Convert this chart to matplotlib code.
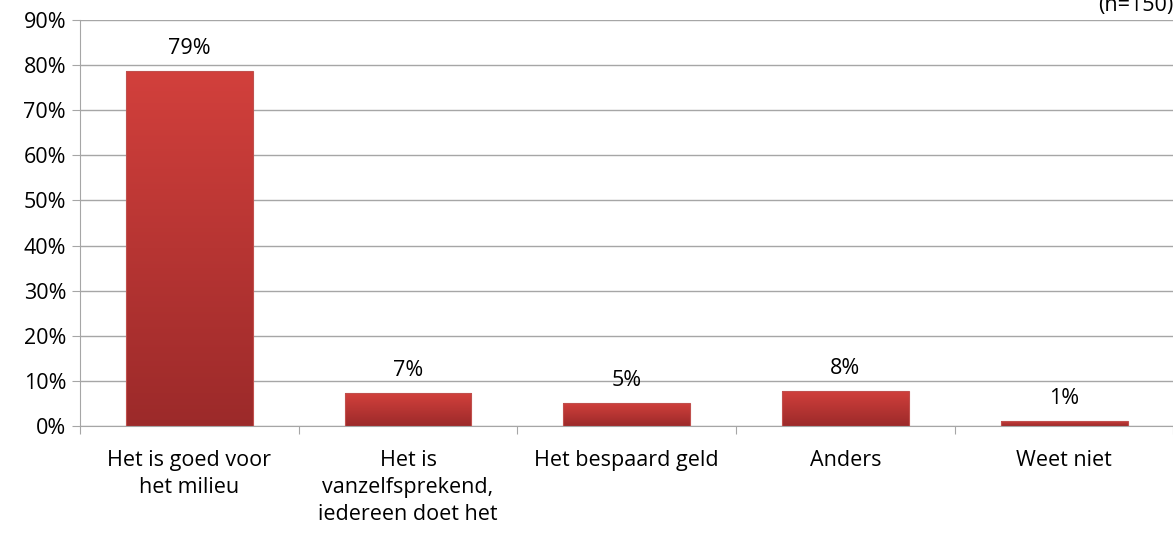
import numpy as np
import matplotlib
matplotlib.use("Agg")
from matplotlib import pyplot as plt
from matplotlib.colors import LinearSegmentedColormap

categories = ["Het is goed voor\nhet milieu", "Het is\nvanzelfsprekend,\niedereen doet het",
              "Het bespaard geld", "Anders", "Weet niet"]
values = [78.7, 7.3, 5.2, 7.8, 1.2]
labels = ["79%", "7%", "5%", "8%", "1%"]
note = "(n=150)"

plt.rcParams['font.family'] = ['Open Sans', 'DejaVu Sans']
fs = 15.5

fig = plt.figure(figsize=(11.73, 5.54), dpi=100)
ax = fig.add_axes([80 / 1173, (554 - 426) / 554, 1100 / 1173, 406 / 554])

grid_col = "#a6a6a6"
cmap = LinearSegmentedColormap.from_list("red", ["#9c2a2a", "#d2403c"])
grad = np.linspace(0, 1, 256).reshape(-1, 1)

x = np.arange(len(categories))
bars = ax.bar(x, values, width=0.58, color="none", edgecolor="#c0504d", linewidth=0.8, zorder=3)
for b, lab in zip(bars, labels):
    x0, y0 = b.get_x(), b.get_y()
    w, h = b.get_width(), b.get_height()
    im = ax.imshow(grad, cmap=cmap, extent=[x0, x0 + w, y0, y0 + h], origin="lower",
                   aspect="auto", zorder=2)
    im.set_clip_path(b)
    ax.text(x0 + w / 2, h + 2.6, lab, ha="center", va="bottom", fontsize=fs)

ax.set_xlim(-0.5, 4.5 + 0.03)
ax.set_ylim(0, 90)
ax.set_yticks(np.arange(0, 91, 10))
ax.set_yticklabels([f"{v}%" for v in range(0, 91, 10)], fontsize=fs)
ax.yaxis.grid(True, color=grid_col, linewidth=1)
ax.set_axisbelow(True)

ax.set_xticks(np.arange(-0.5, 5, 1))
ax.set_xticklabels([])
ax.set_xticks(x, minor=True)
ax.set_xticklabels(categories, minor=True, fontsize=fs, linespacing=1.4)
ax.tick_params(axis="x", which="minor", length=0, pad=17)
ax.tick_params(axis="x", which="major", length=6, color=grid_col)
ax.tick_params(axis="y", length=6, color=grid_col, pad=4)

for s in ["top", "right"]:
    ax.spines[s].set_visible(False)
ax.spines["left"].set_color(grid_col)
ax.spines["bottom"].set_color(grid_col)

fig.text(1098 / 1173, 1 - 5 / 554, note, ha="left", va="center", fontsize=fs)

fig.savefig("out.png", dpi=100)
